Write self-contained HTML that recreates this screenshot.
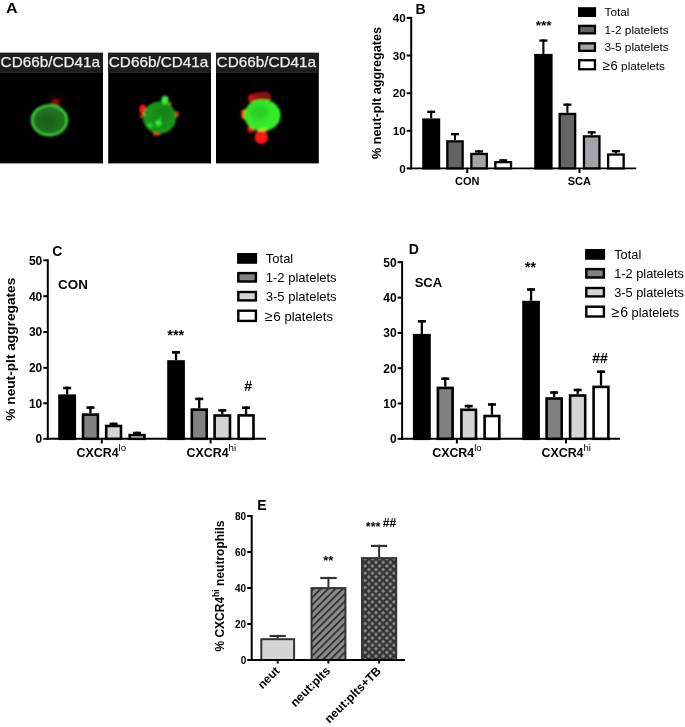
<!DOCTYPE html><html><head><meta charset="utf-8"><style>html,body{margin:0;padding:0;background:#fff;width:685px;height:727px;overflow:hidden}svg{display:block;will-change:transform}text{font-family:"Liberation Sans",sans-serif}</style></head><body>
<svg width="685" height="727" viewBox="0 0 685 727">
<defs>
<pattern id="stripes" patternUnits="userSpaceOnUse" x="312" y="589" width="5.16" height="5.16" patternTransform="rotate(45 312 589)">
<rect width="5.16" height="5.16" fill="#8a8a8a"/><rect width="1.9" height="5.16" fill="#333"/></pattern>
<pattern id="dots" patternUnits="userSpaceOnUse" x="365.2" y="566" width="7.2" height="7.2">
<rect width="7.2" height="7.2" fill="#333"/>
<path d="M0 -2 L2 0 L0 2 L-2 0Z M7.2 -2 L9.2 0 L7.2 2 L5.2 0Z M0 5.2 L2 7.2 L0 9.2 L-2 7.2Z M7.2 5.2 L9.2 7.2 L7.2 9.2 L5.2 7.2Z M3.6 1.6 L5.6 3.6 L3.6 5.6 L1.6 3.6Z" fill="#8a8a8a"/></pattern>
<filter id="blur1" x="-50%" y="-50%" width="200%" height="200%"><feGaussianBlur stdDeviation="1.2"/></filter>
<filter id="blur2" x="-50%" y="-50%" width="200%" height="200%"><feGaussianBlur stdDeviation="2"/></filter>
<radialGradient id="cellg1" cx="50%" cy="50%" r="50%"><stop offset="0" stop-color="#1f6a1f"/><stop offset="0.75" stop-color="#2a8a2a"/><stop offset="0.92" stop-color="#3fd13f"/><stop offset="1" stop-color="#2fa82f"/></radialGradient>
<radialGradient id="cellg2" cx="50%" cy="50%" r="50%"><stop offset="0" stop-color="#1e7a1e"/><stop offset="0.85" stop-color="#28a028"/><stop offset="1" stop-color="#2bb52b"/></radialGradient>
<radialGradient id="cellg3" cx="45%" cy="45%" r="55%"><stop offset="0" stop-color="#6fe83a"/><stop offset="0.7" stop-color="#4ff03a"/><stop offset="1" stop-color="#38d838"/></radialGradient>
</defs>
<text x="6.1" y="13" font-size="15.4" font-weight="bold" text-anchor="start" fill="#000" textLength="11.6" lengthAdjust="spacingAndGlyphs">A</text>
<rect x="0" y="52.8" width="103" height="110.60000000000001" fill="#000"/>
<rect x="0" y="52.8" width="103" height="20.2" fill="#1f1f1f"/>
<text x="0.6" y="67.2" font-size="14.6" font-weight="normal" text-anchor="start" fill="#ececec" textLength="99.5" lengthAdjust="spacingAndGlyphs" stroke="#ececec" stroke-width="0.25">CD66b/CD41a</text>
<rect x="108.2" y="52.8" width="102.8" height="110.60000000000001" fill="#000"/>
<rect x="108.2" y="52.8" width="102.8" height="20.2" fill="#1f1f1f"/>
<text x="108.8" y="67.2" font-size="14.6" font-weight="normal" text-anchor="start" fill="#ececec" textLength="99.5" lengthAdjust="spacingAndGlyphs" stroke="#ececec" stroke-width="0.25">CD66b/CD41a</text>
<rect x="216" y="52.8" width="102.80000000000001" height="110.60000000000001" fill="#000"/>
<rect x="216" y="52.8" width="102.80000000000001" height="20.2" fill="#1f1f1f"/>
<text x="216.6" y="67.2" font-size="14.6" font-weight="normal" text-anchor="start" fill="#ececec" textLength="99.5" lengthAdjust="spacingAndGlyphs" stroke="#ececec" stroke-width="0.25">CD66b/CD41a</text>
<g filter="url(#blur1)">
<circle cx="55.5" cy="102.6" r="4.4" fill="#a00808" filter="url(#blur2)"/>
<ellipse cx="49.5" cy="120.3" rx="17.5" ry="14.9" fill="#217221" stroke="#3ad43a" stroke-width="2.4"/>
<ellipse cx="47" cy="122" rx="9" ry="8" fill="#1a561a" opacity="0.5" filter="url(#blur2)"/>
</g>
<g filter="url(#blur1)">
<ellipse cx="142.7" cy="109.5" rx="3.4" ry="5.2" fill="#ff1414"/>
<circle cx="141.2" cy="116.5" r="1.5" fill="#e03010"/>
<ellipse cx="176.9" cy="114.3" rx="2" ry="3" fill="#e83018"/>
<ellipse cx="156.7" cy="133.6" rx="4" ry="2.4" fill="#e82020"/>
<circle cx="169.9" cy="103.8" r="1.5" fill="#e0a020"/>
<ellipse cx="159.6" cy="117.6" rx="16.6" ry="16.2" fill="#1a941a"/>
<ellipse cx="163" cy="115" rx="8" ry="8" fill="#127812" opacity="0.6" filter="url(#blur2)"/>
<ellipse cx="165" cy="100" rx="3.6" ry="4.2" fill="#38f038"/>
<circle cx="158.5" cy="123.1" r="3" fill="#30f030"/>
<circle cx="149.7" cy="125.3" r="2.5" fill="#28d828"/>
<circle cx="144.5" cy="114.8" r="1.8" fill="#28c828"/>
<circle cx="159.8" cy="117.8" r="1.3" fill="#28c828"/>
</g>
<g filter="url(#blur1)">
<ellipse cx="259.5" cy="97.8" rx="11.8" ry="5.6" fill="#a00c0c"/>
<circle cx="251.5" cy="99" r="3.6" fill="#c01212"/>
<ellipse cx="264.5" cy="95.2" rx="5.5" ry="4" fill="#8c0a0a"/>
<circle cx="261.3" cy="137.1" r="6.8" fill="#ff1414"/>
<circle cx="250.8" cy="129.2" r="3.4" fill="#ee1414"/>
<ellipse cx="243.8" cy="114.3" rx="2.6" ry="5" fill="#ff5a10"/>
<ellipse cx="262.4" cy="115.3" rx="18.2" ry="15.9" fill="#34ec2a"/>
<ellipse cx="259" cy="112" rx="10" ry="9" fill="#22b422" opacity="0.45" filter="url(#blur2)"/>
<ellipse cx="263" cy="129.8" rx="5" ry="1.4" fill="#c8f020" opacity="0.8"/>
</g>
<text x="415.6" y="13.8" font-size="14" font-weight="bold" text-anchor="start" fill="#000" >B</text>
<line x1="411.2" y1="169.4" x2="411.2" y2="16.9" stroke="#000" stroke-width="2"/>
<line x1="406.7" y1="168.4" x2="411.2" y2="168.4" stroke="#000" stroke-width="2"/>
<text x="405.7" y="172.612" font-size="11.7" font-weight="bold" text-anchor="end" fill="#000" >0</text>
<line x1="406.7" y1="130.8" x2="411.2" y2="130.8" stroke="#000" stroke-width="2"/>
<text x="405.7" y="135.012" font-size="11.7" font-weight="bold" text-anchor="end" fill="#000" >10</text>
<line x1="406.7" y1="93.2" x2="411.2" y2="93.2" stroke="#000" stroke-width="2"/>
<text x="405.7" y="97.412" font-size="11.7" font-weight="bold" text-anchor="end" fill="#000" >20</text>
<line x1="406.7" y1="55.5" x2="411.2" y2="55.5" stroke="#000" stroke-width="2"/>
<text x="405.7" y="59.712" font-size="11.7" font-weight="bold" text-anchor="end" fill="#000" >30</text>
<line x1="406.7" y1="17.9" x2="411.2" y2="17.9" stroke="#000" stroke-width="2"/>
<text x="405.7" y="22.112" font-size="11.7" font-weight="bold" text-anchor="end" fill="#000" >40</text>
<text transform="translate(381,158.9) rotate(-90)" font-size="12.65" font-weight="bold">% neut-plt aggregates</text>
<line x1="410.2" y1="168.4" x2="636.2" y2="168.4" stroke="#000" stroke-width="1.8"/>
<line x1="467.2" y1="168.4" x2="467.2" y2="173" stroke="#000" stroke-width="2"/>
<line x1="579.5" y1="168.4" x2="579.5" y2="173" stroke="#000" stroke-width="2"/>
<text x="467.2" y="184.8" font-size="11" font-weight="bold" text-anchor="middle" fill="#000" >CON</text>
<text x="579.4" y="184.8" font-size="11" font-weight="bold" text-anchor="middle" fill="#000" >SCA</text>
<rect x="423.35" y="119.55" width="15.70" height="48.85" fill="#000" stroke="#000" stroke-width="2.3"/>
<line x1="431.2" y1="118.4" x2="431.2" y2="110.7" stroke="#000" stroke-width="2.1"/>
<line x1="427.2" y1="111.85000000000001" x2="435.2" y2="111.85000000000001" stroke="#000" stroke-width="2.3"/>
<rect x="447.35" y="141.35" width="15.30" height="27.05" fill="#646464" stroke="#000" stroke-width="2.3"/>
<line x1="455.0" y1="140.2" x2="455.0" y2="133" stroke="#000" stroke-width="2.1"/>
<line x1="451.0" y1="134.15" x2="459.0" y2="134.15" stroke="#000" stroke-width="2.3"/>
<rect x="471.35" y="153.95" width="15.50" height="14.45" fill="#a3a3a8" stroke="#000" stroke-width="2.3"/>
<line x1="479.1" y1="152.8" x2="479.1" y2="150.3" stroke="#000" stroke-width="2.1"/>
<line x1="475.1" y1="151.45000000000002" x2="483.1" y2="151.45000000000002" stroke="#000" stroke-width="2.3"/>
<rect x="495.35" y="162.15" width="15.70" height="6.25" fill="#fff" stroke="#000" stroke-width="2.3"/>
<line x1="503.20000000000005" y1="161" x2="503.20000000000005" y2="159.2" stroke="#000" stroke-width="2.1"/>
<line x1="499.20000000000005" y1="160.35" x2="507.20000000000005" y2="160.35" stroke="#000" stroke-width="2.3"/>
<rect x="535.35" y="55.05" width="16.10" height="113.35" fill="#000" stroke="#000" stroke-width="2.3"/>
<line x1="543.4000000000001" y1="53.9" x2="543.4000000000001" y2="39.4" stroke="#000" stroke-width="2.1"/>
<line x1="539.4000000000001" y1="40.55" x2="547.4000000000001" y2="40.55" stroke="#000" stroke-width="2.3"/>
<rect x="559.65" y="113.95" width="15.50" height="54.45" fill="#646464" stroke="#000" stroke-width="2.3"/>
<line x1="567.4" y1="112.8" x2="567.4" y2="103.5" stroke="#000" stroke-width="2.1"/>
<line x1="563.4" y1="104.65" x2="571.4" y2="104.65" stroke="#000" stroke-width="2.3"/>
<rect x="583.95" y="136.35" width="15.50" height="32.05" fill="#a3a3a8" stroke="#000" stroke-width="2.3"/>
<line x1="591.7" y1="135.2" x2="591.7" y2="131.2" stroke="#000" stroke-width="2.1"/>
<line x1="587.7" y1="132.35" x2="595.7" y2="132.35" stroke="#000" stroke-width="2.3"/>
<rect x="608.15" y="154.55" width="15.50" height="13.85" fill="#fff" stroke="#000" stroke-width="2.3"/>
<line x1="615.9" y1="153.4" x2="615.9" y2="150" stroke="#000" stroke-width="2.1"/>
<line x1="611.9" y1="151.15" x2="619.9" y2="151.15" stroke="#000" stroke-width="2.3"/>
<text x="543.6" y="29.5" font-size="13.6" font-weight="bold" text-anchor="middle" fill="#000" >***</text>
<rect x="579.15" y="8.35" width="15.8" height="7.500000000000001" fill="#000" stroke="#000" stroke-width="2.3"/>
<text x="604.5" y="16.348000000000003" font-size="11.8" font-weight="normal" text-anchor="start" fill="#000" >Total</text>
<rect x="579.15" y="25.849999999999998" width="15.8" height="7.500000000000001" fill="#646464" stroke="#000" stroke-width="2.3"/>
<text x="604.5" y="33.848" font-size="11.8" font-weight="normal" text-anchor="start" fill="#000" >1-2 platelets</text>
<rect x="579.15" y="43.35" width="15.8" height="7.500000000000001" fill="#a3a3a8" stroke="#000" stroke-width="2.3"/>
<text x="604.5" y="51.348" font-size="11.8" font-weight="normal" text-anchor="start" fill="#000" >3-5 platelets</text>
<rect x="579.15" y="60.25" width="15.8" height="9.0" fill="#fff" stroke="#000" stroke-width="2.3"/>
<text x="602.5" y="69.85" font-size="11.8"><tspan font-size="13.6">&#8805;</tspan><tspan font-size="13" dx="0.6">6</tspan> platelets</text>
<text x="52.2" y="255.8" font-size="14" font-weight="bold" text-anchor="start" fill="#000" >C</text>
<line x1="47.8" y1="439.8" x2="47.8" y2="259.3" stroke="#000" stroke-width="2"/>
<line x1="43.3" y1="438.8" x2="47.8" y2="438.8" stroke="#000" stroke-width="2"/>
<text x="42.3" y="443.12" font-size="12" font-weight="bold" text-anchor="end" fill="#000" >0</text>
<line x1="43.3" y1="403.3" x2="47.8" y2="403.3" stroke="#000" stroke-width="2"/>
<text x="42.3" y="407.62" font-size="12" font-weight="bold" text-anchor="end" fill="#000" >10</text>
<line x1="43.3" y1="367.8" x2="47.8" y2="367.8" stroke="#000" stroke-width="2"/>
<text x="42.3" y="372.12" font-size="12" font-weight="bold" text-anchor="end" fill="#000" >20</text>
<line x1="43.3" y1="332.0" x2="47.8" y2="332.0" stroke="#000" stroke-width="2"/>
<text x="42.3" y="336.32" font-size="12" font-weight="bold" text-anchor="end" fill="#000" >30</text>
<line x1="43.3" y1="296.2" x2="47.8" y2="296.2" stroke="#000" stroke-width="2"/>
<text x="42.3" y="300.52" font-size="12" font-weight="bold" text-anchor="end" fill="#000" >40</text>
<line x1="43.3" y1="260.3" x2="47.8" y2="260.3" stroke="#000" stroke-width="2"/>
<text x="42.3" y="264.62" font-size="12" font-weight="bold" text-anchor="end" fill="#000" >50</text>
<text transform="translate(15.4,420.7) rotate(-90)" font-size="13.7" font-weight="bold">% neut-plt aggregates</text>
<text x="58.1" y="289.2" font-size="13.4" font-weight="bold" text-anchor="start" fill="#000" >CON</text>
<line x1="46.8" y1="438.8" x2="266" y2="438.8" stroke="#000" stroke-width="2"/>
<line x1="101.8" y1="438.8" x2="101.8" y2="443.5" stroke="#000" stroke-width="2"/>
<line x1="210.6" y1="438.8" x2="210.6" y2="443.5" stroke="#000" stroke-width="2"/>
<text x="76.6" y="456.7" font-size="12.4" font-weight="bold">CXCR4<tspan font-size="9.6" font-weight="normal" dy="-5.6">lo</tspan></text>
<text x="186.6" y="456.7" font-size="12.4" font-weight="bold">CXCR4<tspan font-size="9.6" font-weight="normal" dy="-5.6">hi</tspan></text>
<rect x="59.50" y="395.70" width="15.30" height="43.10" fill="#000" stroke="#000" stroke-width="2.6"/>
<line x1="67.15" y1="394.4" x2="67.15" y2="386.7" stroke="#000" stroke-width="2.3"/>
<line x1="63.150000000000006" y1="388.0" x2="71.15" y2="388.0" stroke="#000" stroke-width="2.6"/>
<rect x="83.00" y="414.60" width="14.90" height="24.20" fill="#818181" stroke="#000" stroke-width="2.6"/>
<line x1="90.45" y1="413.3" x2="90.45" y2="406.3" stroke="#000" stroke-width="2.3"/>
<line x1="86.45" y1="407.6" x2="94.45" y2="407.6" stroke="#000" stroke-width="2.6"/>
<rect x="106.20" y="426.00" width="14.80" height="12.80" fill="#d4d4d4" stroke="#000" stroke-width="2.6"/>
<line x1="113.6" y1="424.7" x2="113.6" y2="422.6" stroke="#000" stroke-width="2.3"/>
<line x1="109.6" y1="423.90000000000003" x2="117.6" y2="423.90000000000003" stroke="#000" stroke-width="2.6"/>
<rect x="129.70" y="435.10" width="14.70" height="3.70" fill="#fff" stroke="#000" stroke-width="2.6"/>
<line x1="137.05" y1="433.8" x2="137.05" y2="431.7" stroke="#000" stroke-width="2.3"/>
<line x1="133.05" y1="433.0" x2="141.05" y2="433.0" stroke="#000" stroke-width="2.6"/>
<rect x="168.50" y="361.50" width="15.10" height="77.30" fill="#000" stroke="#000" stroke-width="2.6"/>
<line x1="176.05" y1="360.2" x2="176.05" y2="351.1" stroke="#000" stroke-width="2.3"/>
<line x1="172.05" y1="352.40000000000003" x2="180.05" y2="352.40000000000003" stroke="#000" stroke-width="2.6"/>
<rect x="191.80" y="409.60" width="14.90" height="29.20" fill="#818181" stroke="#000" stroke-width="2.6"/>
<line x1="199.25" y1="408.3" x2="199.25" y2="397.6" stroke="#000" stroke-width="2.3"/>
<line x1="195.25" y1="398.90000000000003" x2="203.25" y2="398.90000000000003" stroke="#000" stroke-width="2.6"/>
<rect x="214.60" y="415.50" width="15.40" height="23.30" fill="#d4d4d4" stroke="#000" stroke-width="2.6"/>
<line x1="222.3" y1="414.2" x2="222.3" y2="409.1" stroke="#000" stroke-width="2.3"/>
<line x1="218.3" y1="410.40000000000003" x2="226.3" y2="410.40000000000003" stroke="#000" stroke-width="2.6"/>
<rect x="238.60" y="415.40" width="14.90" height="23.40" fill="#fff" stroke="#000" stroke-width="2.6"/>
<line x1="246.05" y1="414.1" x2="246.05" y2="406.4" stroke="#000" stroke-width="2.3"/>
<line x1="242.05" y1="407.7" x2="250.05" y2="407.7" stroke="#000" stroke-width="2.6"/>
<text x="175.8" y="339.7" font-size="14.5" font-weight="bold" text-anchor="middle" fill="#000" >***</text>
<text x="248.1" y="390.6" font-size="14" font-weight="bold" text-anchor="middle" fill="#000" >#</text>
<rect x="238.29999999999998" y="254.2" width="17.6" height="8.4" fill="#000" stroke="#000" stroke-width="2.4"/>
<text x="265.8" y="263.08" font-size="13" font-weight="normal" text-anchor="start" fill="#000" >Total</text>
<rect x="238.29999999999998" y="273.09999999999997" width="17.6" height="8.4" fill="#818181" stroke="#000" stroke-width="2.4"/>
<text x="265.8" y="281.97999999999996" font-size="13" font-weight="normal" text-anchor="start" fill="#000" >1-2 platelets</text>
<rect x="238.29999999999998" y="292.0" width="17.6" height="8.4" fill="#d4d4d4" stroke="#000" stroke-width="2.4"/>
<text x="265.8" y="300.88" font-size="13" font-weight="normal" text-anchor="start" fill="#000" >3-5 platelets</text>
<rect x="238.29999999999998" y="310.7" width="17.6" height="10.200000000000001" fill="#fff" stroke="#000" stroke-width="2.4"/>
<text x="264.90000000000003" y="320.78" font-size="13"><tspan font-size="14.3">&#8805;</tspan><tspan font-size="13.5" dx="0.6">6</tspan> platelets</text>
<text x="408.8" y="253.7" font-size="14" font-weight="bold" text-anchor="start" fill="#000" >D</text>
<line x1="402.1" y1="439.8" x2="402.1" y2="261.2" stroke="#000" stroke-width="2"/>
<line x1="397.6" y1="438.8" x2="402.1" y2="438.8" stroke="#000" stroke-width="2"/>
<text x="396.6" y="443.12" font-size="12" font-weight="bold" text-anchor="end" fill="#000" >0</text>
<line x1="397.6" y1="403.5" x2="402.1" y2="403.5" stroke="#000" stroke-width="2"/>
<text x="396.6" y="407.82" font-size="12" font-weight="bold" text-anchor="end" fill="#000" >10</text>
<line x1="397.6" y1="368.2" x2="402.1" y2="368.2" stroke="#000" stroke-width="2"/>
<text x="396.6" y="372.52" font-size="12" font-weight="bold" text-anchor="end" fill="#000" >20</text>
<line x1="397.6" y1="332.9" x2="402.1" y2="332.9" stroke="#000" stroke-width="2"/>
<text x="396.6" y="337.21999999999997" font-size="12" font-weight="bold" text-anchor="end" fill="#000" >30</text>
<line x1="397.6" y1="297.6" x2="402.1" y2="297.6" stroke="#000" stroke-width="2"/>
<text x="396.6" y="301.92" font-size="12" font-weight="bold" text-anchor="end" fill="#000" >40</text>
<line x1="397.6" y1="262.2" x2="402.1" y2="262.2" stroke="#000" stroke-width="2"/>
<text x="396.6" y="266.52" font-size="12" font-weight="bold" text-anchor="end" fill="#000" >50</text>
<text x="414.7" y="287" font-size="13" font-weight="bold" text-anchor="start" fill="#000" >SCA</text>
<line x1="401.1" y1="438.8" x2="620" y2="438.8" stroke="#000" stroke-width="2"/>
<line x1="456.9" y1="438.8" x2="456.9" y2="443.5" stroke="#000" stroke-width="2"/>
<line x1="566" y1="438.8" x2="566" y2="443.5" stroke="#000" stroke-width="2"/>
<text x="432.2" y="456.7" font-size="12.4" font-weight="bold">CXCR4<tspan font-size="9.6" font-weight="normal" dy="-5.6">lo</tspan></text>
<text x="541.5" y="456.7" font-size="12.4" font-weight="bold">CXCR4<tspan font-size="9.6" font-weight="normal" dy="-5.6">hi</tspan></text>
<rect x="414.20" y="335.20" width="15.30" height="103.60" fill="#000" stroke="#000" stroke-width="2.6"/>
<line x1="421.85" y1="333.9" x2="421.85" y2="320.0" stroke="#000" stroke-width="2.3"/>
<line x1="417.85" y1="321.3" x2="425.85" y2="321.3" stroke="#000" stroke-width="2.6"/>
<rect x="437.90" y="387.90" width="14.70" height="50.90" fill="#818181" stroke="#000" stroke-width="2.6"/>
<line x1="445.25" y1="386.6" x2="445.25" y2="377.4" stroke="#000" stroke-width="2.3"/>
<line x1="441.25" y1="378.7" x2="449.25" y2="378.7" stroke="#000" stroke-width="2.6"/>
<rect x="461.40" y="409.80" width="14.60" height="29.00" fill="#d4d4d4" stroke="#000" stroke-width="2.6"/>
<line x1="468.70000000000005" y1="408.5" x2="468.70000000000005" y2="404.8" stroke="#000" stroke-width="2.3"/>
<line x1="464.70000000000005" y1="406.1" x2="472.70000000000005" y2="406.1" stroke="#000" stroke-width="2.6"/>
<rect x="484.60" y="416.00" width="14.70" height="22.80" fill="#fff" stroke="#000" stroke-width="2.6"/>
<line x1="491.95000000000005" y1="414.7" x2="491.95000000000005" y2="403.2" stroke="#000" stroke-width="2.3"/>
<line x1="487.95000000000005" y1="404.5" x2="495.95000000000005" y2="404.5" stroke="#000" stroke-width="2.6"/>
<rect x="523.50" y="302.10" width="15.10" height="136.70" fill="#000" stroke="#000" stroke-width="2.6"/>
<line x1="531.05" y1="300.8" x2="531.05" y2="288.2" stroke="#000" stroke-width="2.3"/>
<line x1="527.05" y1="289.5" x2="535.05" y2="289.5" stroke="#000" stroke-width="2.6"/>
<rect x="546.60" y="398.50" width="15.10" height="40.30" fill="#818181" stroke="#000" stroke-width="2.6"/>
<line x1="554.15" y1="397.2" x2="554.15" y2="391.2" stroke="#000" stroke-width="2.3"/>
<line x1="550.15" y1="392.5" x2="558.15" y2="392.5" stroke="#000" stroke-width="2.6"/>
<rect x="570.10" y="395.50" width="15.10" height="43.30" fill="#d4d4d4" stroke="#000" stroke-width="2.6"/>
<line x1="577.65" y1="394.2" x2="577.65" y2="388.7" stroke="#000" stroke-width="2.3"/>
<line x1="573.65" y1="390.0" x2="581.65" y2="390.0" stroke="#000" stroke-width="2.6"/>
<rect x="593.60" y="386.90" width="14.80" height="51.90" fill="#fff" stroke="#000" stroke-width="2.6"/>
<line x1="601.0" y1="385.6" x2="601.0" y2="370.4" stroke="#000" stroke-width="2.3"/>
<line x1="597.0" y1="371.7" x2="605.0" y2="371.7" stroke="#000" stroke-width="2.6"/>
<text x="530.5" y="272.2" font-size="14" font-weight="bold" text-anchor="middle" fill="#000" >**</text>
<text x="600.1" y="363.3" font-size="14" font-weight="bold" text-anchor="middle" fill="#000" >##</text>
<rect x="586.3000000000001" y="250.2" width="17.6" height="8.4" fill="#000" stroke="#000" stroke-width="2.4"/>
<text x="614.2" y="259.008" font-size="12.8" font-weight="normal" text-anchor="start" fill="#000" >Total</text>
<rect x="586.3000000000001" y="269.09999999999997" width="17.6" height="8.4" fill="#818181" stroke="#000" stroke-width="2.4"/>
<text x="614.2" y="277.90799999999996" font-size="12.8" font-weight="normal" text-anchor="start" fill="#000" >1-2 platelets</text>
<rect x="586.3000000000001" y="288.0" width="17.6" height="8.4" fill="#d4d4d4" stroke="#000" stroke-width="2.4"/>
<text x="614.2" y="296.808" font-size="12.8" font-weight="normal" text-anchor="start" fill="#000" >3-5 platelets</text>
<rect x="586.3000000000001" y="306.7" width="17.6" height="9.8" fill="#fff" stroke="#000" stroke-width="2.4"/>
<text x="611.6" y="316.51" font-size="12.8"><tspan font-size="14.5">&#8805;</tspan><tspan font-size="14.2" dx="0.6">6</tspan> platelets</text>
<text x="257.2" y="509.9" font-size="14" font-weight="bold" text-anchor="start" fill="#000" >E</text>
<line x1="251.7" y1="661" x2="251.7" y2="515" stroke="#000" stroke-width="2"/>
<line x1="247.2" y1="660" x2="251.7" y2="660" stroke="#000" stroke-width="2"/>
<text x="246.2" y="663.6" font-size="10" font-weight="bold" text-anchor="end" fill="#000" >0</text>
<line x1="247.2" y1="624" x2="251.7" y2="624" stroke="#000" stroke-width="2"/>
<text x="246.2" y="627.6" font-size="10" font-weight="bold" text-anchor="end" fill="#000" >20</text>
<line x1="247.2" y1="588" x2="251.7" y2="588" stroke="#000" stroke-width="2"/>
<text x="246.2" y="591.6" font-size="10" font-weight="bold" text-anchor="end" fill="#000" >40</text>
<line x1="247.2" y1="552" x2="251.7" y2="552" stroke="#000" stroke-width="2"/>
<text x="246.2" y="555.6" font-size="10" font-weight="bold" text-anchor="end" fill="#000" >60</text>
<line x1="247.2" y1="516" x2="251.7" y2="516" stroke="#000" stroke-width="2"/>
<text x="246.2" y="519.6" font-size="10" font-weight="bold" text-anchor="end" fill="#000" >80</text>
<text transform="translate(224.3,651.6) rotate(-90)" font-size="12" font-weight="bold">% CXCR4<tspan font-size="8.6" dy="-5.2">hi</tspan><tspan dy="5.2"> neutrophils</tspan></text>
<line x1="250.7" y1="660" x2="405" y2="660" stroke="#000" stroke-width="2"/>
<line x1="277.7" y1="660" x2="277.7" y2="663.5" stroke="#000" stroke-width="2"/>
<line x1="328.4" y1="660" x2="328.4" y2="663.5" stroke="#000" stroke-width="2"/>
<line x1="379.1" y1="660" x2="379.1" y2="663.5" stroke="#000" stroke-width="2"/>
<rect x="261.30" y="639.20" width="32.80" height="20.80" fill="#d4d4d4" stroke="#333" stroke-width="2"/>
<line x1="277.70000000000005" y1="638.2" x2="277.70000000000005" y2="634.9" stroke="#333" stroke-width="2"/>
<line x1="269.6" y1="636.0" x2="285.80000000000007" y2="636.0" stroke="#333" stroke-width="2.2"/>
<rect x="311.50" y="588.10" width="33.90" height="71.90" fill="url(#stripes)" stroke="#333" stroke-width="2"/>
<line x1="328.45" y1="587.1" x2="328.45" y2="576.9" stroke="#333" stroke-width="2"/>
<line x1="320.2" y1="578.0" x2="336.7" y2="578.0" stroke="#333" stroke-width="2.2"/>
<rect x="362.00" y="558.10" width="34.20" height="101.90" fill="url(#dots)" stroke="#333" stroke-width="2"/>
<line x1="379.1" y1="557.1" x2="379.1" y2="544.8" stroke="#333" stroke-width="2"/>
<line x1="371.0" y1="545.9" x2="387.20000000000005" y2="545.9" stroke="#333" stroke-width="2.2"/>
<line x1="250.7" y1="660" x2="405" y2="660" stroke="#000" stroke-width="2"/>
<text x="328.3" y="565.1" font-size="13" font-weight="bold" text-anchor="middle" fill="#000" >**</text>
<text x="373.1" y="531.3" font-size="12.5" font-weight="bold" text-anchor="middle" fill="#000" >***</text>
<text x="389.4" y="526.8" font-size="12" font-weight="bold" text-anchor="middle" fill="#000" >##</text>
<text transform="translate(280.3,671.6) rotate(-45)" font-size="12.0" font-weight="bold" text-anchor="end">neut</text>
<text transform="translate(331.0,671.6) rotate(-45)" font-size="12.0" font-weight="bold" text-anchor="end">neut:plts</text>
<text transform="translate(381.70000000000005,671.6) rotate(-45)" font-size="12.0" font-weight="bold" text-anchor="end">neut:plts+TB</text>
</svg></body></html>
